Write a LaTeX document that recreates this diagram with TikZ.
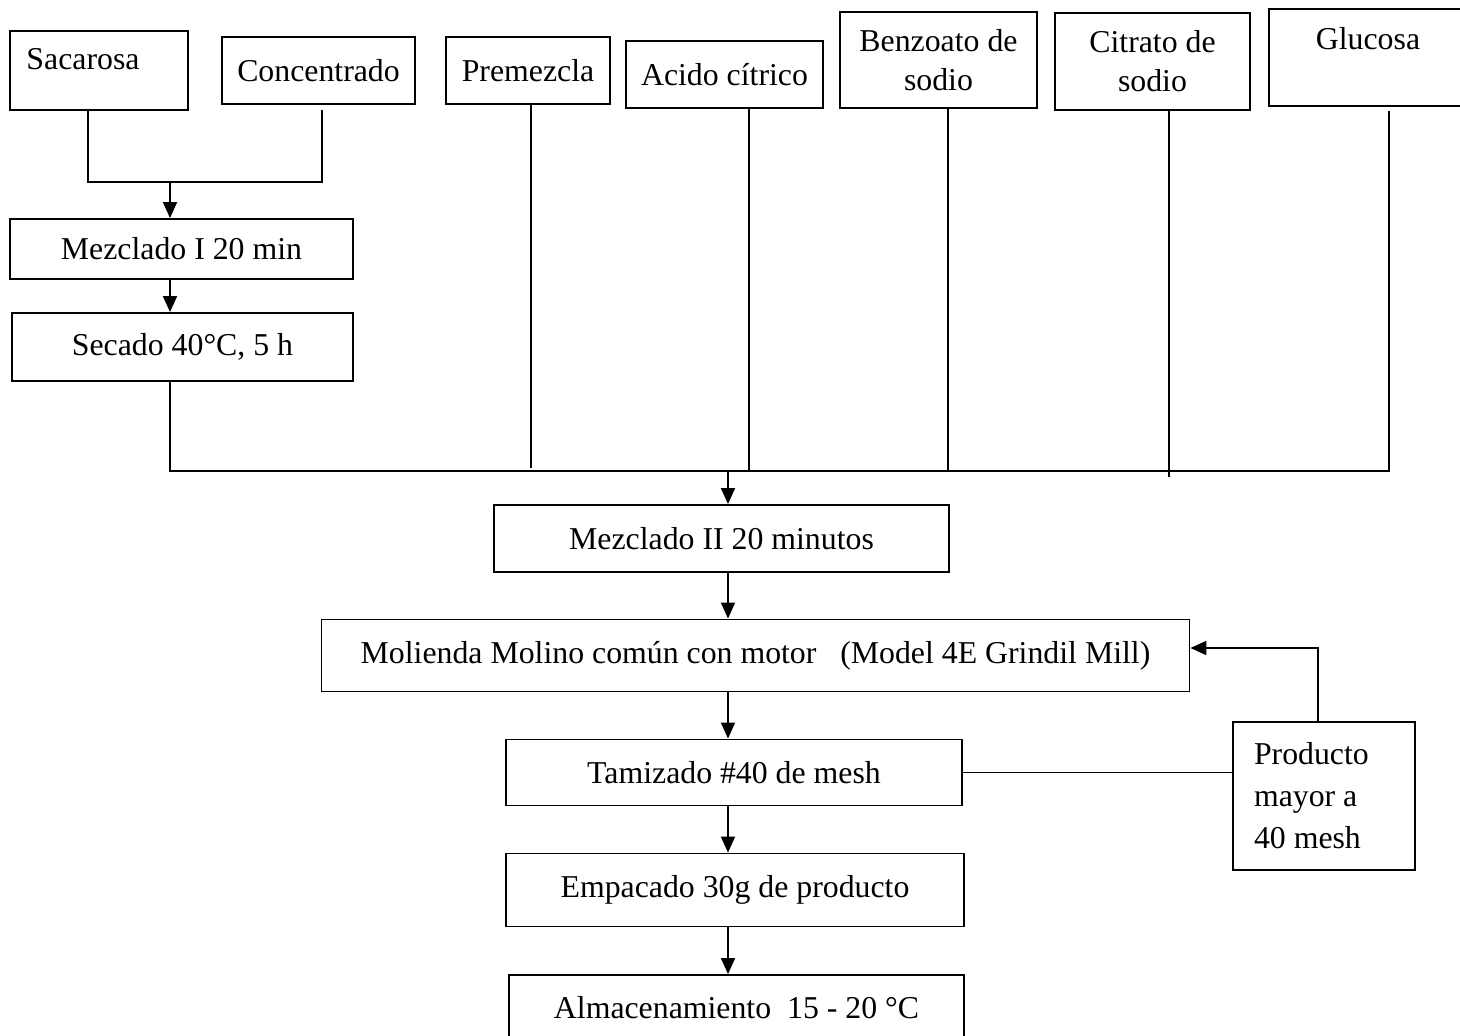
\documentclass[tikz,border=0pt]{standalone}
\usepackage{fontspec}
\setmainfont{Liberation Serif}
\usetikzlibrary{arrows.meta}

\begin{document}
\begin{tikzpicture}[x=1pt,y=1pt,yscale=-1,xscale=1,
  proc/.style={draw, line width=1.9pt, align=center, inner sep=0pt, font=\fontsize{31.8}{39}\selectfont},
  feed/.style={line width=1.6pt},
  flow/.style={line width=1.9pt, -{Triangle[width=14pt,length=16pt]}}]
%set diagram to the page size, the right and bottom boxes run off the page
\useasboundingbox (0,0) rectangle (1460,1036);
\clip (0,0) rectangle (1460,1036);

%Flowchart: Process [inputs]
\node[proc, minimum width=178pt, minimum height=79pt, align=none, text height=21.5pt, text depth=24.5pt] (sacarosa) at (99,70.5) {Sacarosa\hspace*{32pt}};
\node[proc, minimum width=193pt, minimum height=67pt] (concentrado) at (318.5,70.5) {Concentrado};
\node[proc, minimum width=164pt, minimum height=67pt] (premezcla) at (528,70.5) {Premezcla};
\node[proc, minimum width=197pt, minimum height=67pt] (acido) at (724.5,74.5) {Acido cítrico};
\node[proc, minimum width=197pt, minimum height=96pt] (benzoato) at (938.5,60) {Benzoato de\\sodio};
\node[proc, minimum width=195pt, minimum height=97pt] (citrato) at (1152.5,61.5) {Citrato de\\sodio};
\node[proc, minimum width=198pt, minimum height=97pt] (glucosa) at (1368,57.5) {Glucosa\\~};

%Flowchart: Process [steps]
\node[proc, minimum width=343pt, minimum height=60pt] (mezcladoI) at (181.5,249) {Mezclado I 20 min};
\node[proc, minimum width=341pt, minimum height=68pt] (secado) at (182.5,347) {Secado 40°C, 5 h};
\node[proc, minimum width=455pt, minimum height=67pt] (mezcladoII) at (721.5,538.5) {Mezclado II 20 minutos};
\node[proc, minimum width=868pt, minimum height=72pt] (molienda) at (755.5,655.5) {Molienda Molino común con motor\ \ \ (Model 4E Grindil Mill)};
\node[proc, minimum width=456pt, minimum height=66pt] (tamizado) at (734,772.5) {Tamizado \#40 de mesh};
\node[proc, minimum width=458pt, minimum height=73pt] (empacado) at (735,890) {Empacado 30g de producto};
\node[proc, minimum width=455pt, minimum height=65pt] (almacen) at (736.5,1007.5) {Almacenamiento\ \ 15 - 20 °C};
\node[proc, minimum width=182pt, minimum height=148pt, text width=140pt, align=flush left, font=\fontsize{31.8}{42}\selectfont] (producto) at (1324,796) {Producto\\mayor a\\40 mesh};

%Joints
\coordinate (jSac) at (88,182);
\coordinate (jCon) at (322,182);
\coordinate (jMez) at (170,182);
\coordinate (colL) at (170,471);
\coordinate (dPrem) at (531,468);
\coordinate (dAcid) at (749,471);
\coordinate (dBenz) at (948,471);
\coordinate (dCitr) at (1169,477);
\coordinate (dGluc) at (1389,471);
\coordinate (jMain) at (728,471);
\coordinate (jFeed) at (1318,648);

%Lines
\draw[feed, shorten >=5pt] (sacarosa.south -| jSac) -- (jSac) -- (jCon) -- (concentrado.south -| jCon);
\draw[feed, shorten >=4pt] (secado.south -| colL) -- (colL) -- (dGluc) -- (glucosa.south -| dGluc);
\draw[feed] (premezcla.south -| dPrem) -- (dPrem);
\draw[feed] (acido.south -| dAcid) -- (dAcid);
\draw[feed] (benzoato.south -| dBenz) -- (dBenz);
\draw[feed] (citrato.south -| dCitr) -- (dCitr);
\draw[feed] (tamizado.east) -- (producto.west |- tamizado.east);

%Arrows
\draw[flow] (jMez) -- (mezcladoI.north -| jMez);
\draw[flow] (mezcladoI.south -| jMez) -- (secado.north -| jMez);
\draw[flow] (jMain) -- (mezcladoII.north -| jMain);
\draw[flow] (mezcladoII.south -| jMain) -- (molienda.north -| jMain);
\draw[flow] (molienda.south -| jMain) -- (tamizado.north -| jMain);
\draw[flow] (tamizado.south -| jMain) -- (empacado.north -| jMain);
\draw[flow] (empacado.south -| jMain) -- (almacen.north -| jMain);
\draw[flow] (producto.north -| jFeed) -- (jFeed) -- (molienda.east |- jFeed);

\end{tikzpicture}
\end{document}
